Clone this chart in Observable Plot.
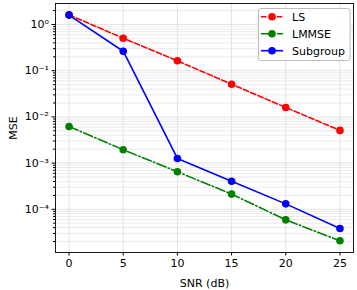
<!DOCTYPE html>
<html>
<head>
<meta charset="utf-8">
<script src="https://cdn.jsdelivr.net/npm/d3@7"></script>
<script src="https://cdn.jsdelivr.net/npm/@observablehq/plot@0.6"></script>
<style>
  html, body { margin: 0; padding: 0; background: #fff; }
  #chart { position: relative; width: 357px; height: 290px; }
</style>
</head>
<body>
<div id="chart"></div>
<script>
const snr = [0, 5, 10, 15, 20, 25];
const lsValues = [1.62, 0.505, 0.164, 0.051, 0.016, 0.0051];
const lmmseValues = [0.0062, 0.00194, 0.00065, 0.000213, 0.000059, 0.0000208];
const subgroupValues = [1.6, 0.264, 0.00126, 0.000405, 0.000131, 0.0000385];
const seriesNames = ["LS", "LMMSE", "Subgroup"];
const seriesColors = ["#ff0000", "#008000", "#0000ff"];
const seriesDash = ["5.5,2.4", "9.6,2.4,1.5,2.4", null];
const xTicks = [0, 5, 10, 15, 20, 25];
const yTicks = [1, 0.1, 0.01, 0.001, 0.0001];
const yTickLabels = ["10⁰", "10⁻¹", "10⁻²", "10⁻³", "10⁻⁴"];

const seriesValues = [lsValues, lmmseValues, subgroupValues];
const tables = seriesValues.map((vals, i) => snr.map((s, j) => ({snr: s, mse: vals[j], series: seriesNames[i]})));

const yDomain = [1.16e-5, 2.85];
const minor = [];
for (let e = -5; e <= 0; e++) for (let m = 2; m <= 9; m++) {
  const v = m * Math.pow(10, e);
  if (v >= yDomain[0] && v <= yDomain[1]) minor.push(v);
}

const font = "DejaVu Sans, sans-serif";
const marks = [
  Plot.ruleY(minor, {stroke: "#e4e4e4", strokeWidth: 0.8}),
  Plot.ruleY(yTicks, {stroke: "#dcdcdc", strokeWidth: 0.8}),
  Plot.ruleX(xTicks, {stroke: "#dcdcdc", strokeWidth: 0.8})
];
tables.forEach((t, i) => {
  marks.push(Plot.line(t, {x: "snr", y: "mse", stroke: seriesColors[i], strokeWidth: 1.6, strokeDasharray: seriesDash[i]}));
  marks.push(Plot.dot(t, {x: "snr", y: "mse", fill: seriesColors[i], r: 3.8}));
});
marks.push(
  Plot.frame({stroke: "#000", strokeWidth: 0.9}),
  Plot.axisX(xTicks, {tickSize: 3.5, tickPadding: 3, fontSize: 11, color: "#000", label: "SNR (dB)", labelAnchor: "center", labelArrow: "none", labelOffset: 34}),
  Plot.axisY(yTicks, {tickSize: 3.5, tickPadding: 3, fontSize: 11, color: "#000", tickFormat: d => yTickLabels[yTicks.indexOf(d)], label: "MSE", labelAnchor: "center", labelArrow: "none", labelOffset: 46}),
  Plot.axisY(minor, {tickSize: 2, tickFormat: () => "", label: null, color: "#000"})
);

const chart = Plot.plot({
  width: 357,
  height: 290,
  marginLeft: 55,
  marginRight: 4,
  marginTop: 3,
  marginBottom: 38,
  style: {fontFamily: font, fontSize: "11px", color: "#000", background: "#fff"},
  x: {domain: [-1.25, 26.25]},
  y: {type: "log", domain: yDomain},
  marks
});
document.getElementById("chart").appendChild(chart);

// legend inside the axes (upper right)
const svg = d3.select(chart);
const lg = svg.append("g").attr("font-family", font).attr("font-size", 11).attr("text-anchor", "start");
lg.append("path")
  .attr("d", "M261,8.5 H347.5 Q350,8.5 350,11 V58 Q350,60.5 347.5,60.5 H261 Q258.5,60.5 258.5,58 V11 Q258.5,8.5 261,8.5 Z")
  .style("fill", "#ffffff").style("fill-opacity", "0.9").style("stroke", "#bcbcbc").style("stroke-width", "1");
seriesNames.forEach((name, i) => {
  const yy = 16.7 + i * 17;
  lg.append("line").attr("x1", 261).attr("x2", 283).attr("y1", yy).attr("y2", yy)
    .attr("stroke", seriesColors[i]).attr("stroke-width", 1.6).attr("stroke-dasharray", seriesDash[i]);
  lg.append("circle").attr("cx", 272).attr("cy", yy).attr("r", 3.8).attr("fill", seriesColors[i]);
  lg.append("text").attr("x", 292).attr("y", yy).attr("dy", "0.35em").attr("fill", "#000").text(name);
});
</script>
</body>
</html>
